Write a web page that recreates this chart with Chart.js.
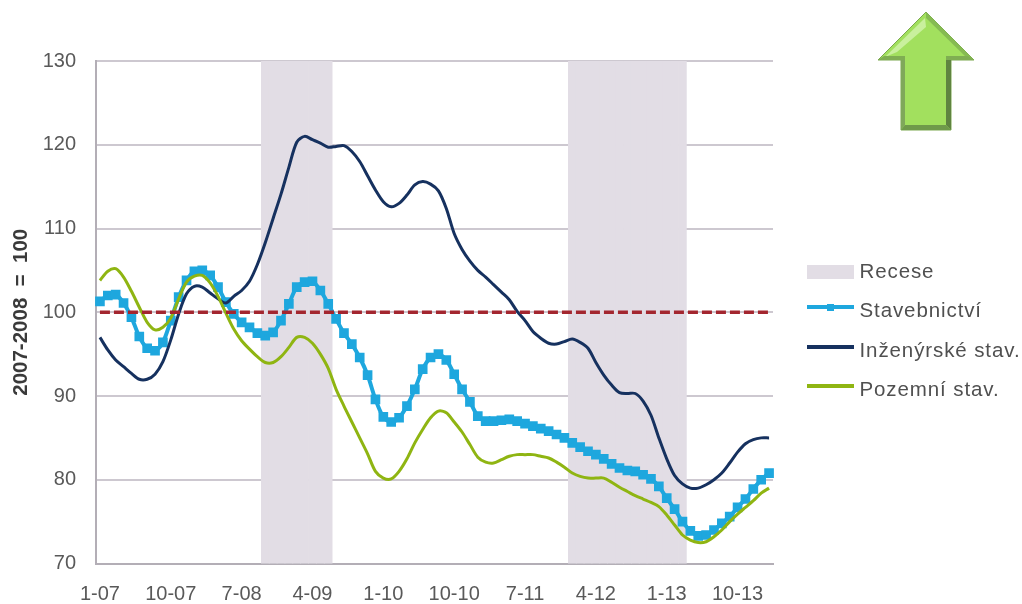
<!DOCTYPE html>
<html lang="cs">
<head>
<meta charset="utf-8">
<title>Stavebnictví</title>
<script src="https://cdn.jsdelivr.net/npm/chart.js@4"></script>
<style>
  html, body { margin: 0; padding: 0; background: #fff; }
  #wrap { position: relative; width: 1022px; height: 604px; overflow: hidden; }
  #graf { position: absolute; left: 0; top: 0; }
  #sipka { position: absolute; left: 870px; top: 5px; }
  .leg { position: absolute; left: 859.5px; font: 20.5px "Liberation Sans", Arial, sans-serif;
         letter-spacing: 0.9px; color: #505050; line-height: 24px; white-space: nowrap; }
  .vzorek { position: absolute; left: 807px; width: 47px; }
</style>
</head>
<body>
<div id="wrap">
  <canvas id="graf" width="1022" height="604"></canvas>

  <svg id="sipka" width="115" height="135" viewBox="870 5 115 135">
    <polygon points="926,12 974,60 951,60 951,130 901,130 901,60 878,60" fill="#a2e05e" stroke="#7aa84e" stroke-width="1"/>
    <polygon points="925,18 926,27 897,52 885,57" fill="#c9f09d"/>
    <polygon points="926,12 974,60 967,58 926,18" fill="#86bb52"/>
    <polygon points="878,60 884,56 905,56 905,60" fill="#7fae52"/>
    <polygon points="946,56 968,56 974,60 946,60" fill="#7fae52"/>
    <polygon points="901,60 905,60 905,125 901,130" fill="#7fa85a"/>
    <polygon points="946,60 951,60 951,130 946,125" fill="#5f8440"/>
    <polygon points="901,130 905,125 946,125 951,130" fill="#6f9a4a"/>
  </svg>

  <div class="vzorek" style="top:265px;height:14px;background:#e2dde5"></div>
  <div class="leg" style="top:259px">Recese</div>
  <div class="vzorek" style="top:305px;height:4px;background:#1ea7de"></div>
  <div style="position:absolute;left:827px;top:304px;width:7px;height:7px;background:#1ea7de"></div>
  <div class="leg" style="top:298px">Stavebnictví</div>
  <div class="vzorek" style="top:345px;height:4px;background:#16315f"></div>
  <div class="leg" style="top:338px">Inženýrské stav.</div>
  <div class="vzorek" style="top:384px;height:4px;background:#8fb512"></div>
  <div class="leg" style="top:377px">Pozemní stav.</div>
</div>

<script>
const mesice = [
  "1-07", "2-07", "3-07", "4-07", "5-07", "6-07", "7-07", "8-07", "9-07", "10-07", "11-07", "12-07",
  "1-08", "2-08", "3-08", "4-08", "5-08", "6-08", "7-08", "8-08", "9-08", "10-08", "11-08", "12-08",
  "1-09", "2-09", "3-09", "4-09", "5-09", "6-09", "7-09", "8-09", "9-09", "10-09", "11-09", "12-09",
  "1-10", "2-10", "3-10", "4-10", "5-10", "6-10", "7-10", "8-10", "9-10", "10-10", "11-10", "12-10",
  "1-11", "2-11", "3-11", "4-11", "5-11", "6-11", "7-11", "8-11", "9-11", "10-11", "11-11", "12-11",
  "1-12", "2-12", "3-12", "4-12", "5-12", "6-12", "7-12", "8-12", "9-12", "10-12", "11-12", "12-12",
  "1-13", "2-13", "3-13", "4-13", "5-13", "6-13", "7-13", "8-13", "9-13", "10-13", "11-13", "12-13",
  "1-14", "2-14"
];

const stavebnictvi = [
  101.3, 102, 102.1, 101.1, 99.4, 97.1, 95.7, 95.4, 96.4, 99,
  101.8, 103.8, 104.9, 105, 104.4, 103, 101.2, 99.8, 98.8, 98.2,
  97.5, 97.2, 97.6, 99, 101, 103, 103.6, 103.7, 102.6, 101,
  99.2, 97.5, 96.2, 94.6, 92.5, 89.6, 87.5, 86.9, 87.4, 88.8,
  90.8, 93.2, 94.6, 95, 94.3, 92.6, 90.8, 89.3, 87.6, 87,
  87, 87.1, 87.2, 87, 86.7, 86.4, 86.1, 85.8, 85.4, 85,
  84.4, 83.9, 83.4, 83, 82.5, 81.9, 81.4, 81.1, 81, 80.6,
  80.1, 79.2, 77.8, 76.5, 75, 73.9, 73.3, 73.4, 74, 74.8,
  75.6, 76.7, 77.7, 78.9, 80, 80.8
];

const inzenyrske = [
  97, 95.5, 94.3, 93.5, 92.7, 92, 92, 92.6, 94.1, 96.7,
  99.8, 102.2, 103.1, 103, 102.3, 101.6, 101.1, 101.9, 102.6, 103.7,
  105.7, 108.3, 111.2, 114.1, 117.3, 120.3, 121, 120.6, 120.2, 119.7,
  119.8, 119.9, 119.2, 118, 116.3, 114.6, 113.2, 112.6, 113, 114,
  115.2, 115.6, 115.3, 114.5, 112.4, 109.4, 107.5, 106.1, 105, 104.2,
  103.3, 102.4, 101.5, 100.1, 99, 97.7, 96.9, 96.3, 96.2, 96.5,
  96.8, 96.4, 95.7, 94, 92.5, 91.3, 90.4, 90.3, 90.3, 89.4,
  87.7, 85, 82.5, 80.5, 79.5, 79, 79, 79.4, 80, 80.8,
  82, 83.3, 84.3, 84.8, 85, 85
];

const pozemni = [
  103.8, 104.9, 105.2, 104.2, 102.5, 100.6, 98.8, 97.9, 98.2, 99.3,
  101.6, 103.6, 104.3, 104.4, 103.5, 101.9, 99.9, 98, 96.6, 95.6,
  94.7, 94, 94, 94.7, 95.8, 97, 97, 96.3, 95, 93.3,
  90.8, 88.8, 86.9, 85, 83.1, 81, 80.2, 80.1, 81, 82.5,
  84.4, 86, 87.4, 88.2, 88, 86.9, 85.7, 84.2, 82.7, 82.1,
  82, 82.4, 82.8, 83, 83, 83, 82.8, 82.6, 82.1, 81.5,
  80.8, 80.4, 80.2, 80.2, 80.2, 79.7, 79.1, 78.6, 78.1, 77.7,
  77.3, 76.8, 75.8, 74.6, 73.4, 72.8, 72.5, 72.6, 73.2, 74,
  75, 75.9, 76.7, 77.5, 78.4, 79
];

// recese: sloupce sahaji pres celou vysku osy
const mesiceRecese = [
  "10-08", "11-08", "12-08", "1-09", "2-09", "3-09", "4-09", "5-09", "6-09",
  "1-12", "2-12", "3-12", "4-12", "5-12", "6-12", "7-12", "8-12", "9-12", "10-12", "11-12", "12-12",
  "1-13", "2-13", "3-13"
];
const recese = mesice.map(m => mesiceRecese.includes(m) ? 130 : null);
const zakladna = mesice.map(() => 100);

const pismo = { family: '"Liberation Sans", Arial, sans-serif', size: 20 };

new Chart(document.getElementById("graf"), {
  data: {
    labels: mesice,
    datasets: [
      {
        type: "bar", label: "Recese", data: recese, order: 5,
        backgroundColor: "#e2dde5", barPercentage: 1, categoryPercentage: 1
      },
      {
        type: "line", label: "Stavebnictví", data: stavebnictvi, order: 4,
        borderColor: "#1ea7de", backgroundColor: "#1ea7de", borderWidth: 4,
        pointStyle: "rect", pointRadius: 4, tension: 0.3
      },
      {
        type: "line", label: "Inženýrské stav.", data: inzenyrske, order: 3,
        borderColor: "#16315f", borderWidth: 3, pointRadius: 0, tension: 0.3
      },
      {
        type: "line", label: "Pozemní stav.", data: pozemni, order: 2,
        borderColor: "#8fb512", borderWidth: 3, pointRadius: 0, tension: 0.3
      },
      {
        type: "line", label: "2007-2008", data: zakladna, order: 1,
        borderColor: "#a3262f", borderWidth: 3.5, borderDash: [10, 4], pointRadius: 0
      }
    ]
  },
  options: {
    responsive: false,
    animation: false,
    layout: { padding: { top: 61, right: 249, left: 0, bottom: 0 } },
    plugins: { legend: { display: false }, tooltip: { enabled: false } },
    scales: {
      x: {
        offset: true,
        grid: { display: false, drawTicks: false },
        border: { color: "#b3aeb6", width: 2 },
        afterFit: s => { s.height = 40.5; },
        ticks: {
          autoSkip: false, maxRotation: 0, minRotation: 0, padding: 19,
          color: "#595959", font: pismo,
          callback: (v, i) => i % 9 === 0 ? mesice[i] : ""
        }
      },
      y: {
        min: 70, max: 130,
        afterFit: s => { s.width = 96; },
        grid: { color: "#cdc8d0", lineWidth: 2, drawTicks: false },
        border: { color: "#b3aeb6", width: 2 },
        ticks: { stepSize: 10, padding: 20, color: "#595959", font: pismo },
        title: {
          display: true, text: "2007-2008  =  100", color: "#3a3a3a", padding: { top: 9, bottom: 0 },
          font: { family: pismo.family, size: 20.5, weight: "bold" }
        }
      }
    }
  }
});
</script>
</body>
</html>
